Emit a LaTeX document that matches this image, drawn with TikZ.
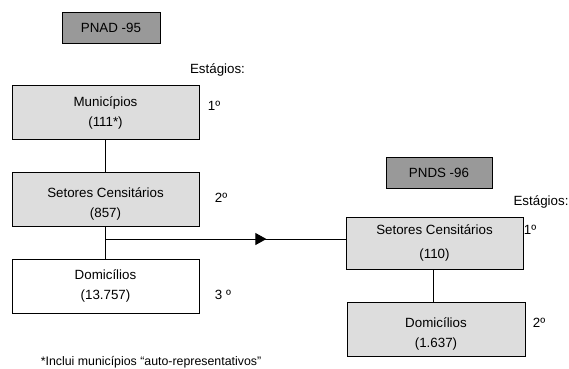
\documentclass[tikz,border=0pt]{standalone}
\usepackage{fontspec}
\setmainfont{Liberation Sans}
\usetikzlibrary{positioning, arrows.meta, decorations.markings}

\definecolor{headgray}{HTML}{999999}
\definecolor{boxgray}{HTML}{DDDDDD}

\begin{document}
\begin{tikzpicture}[x=1bp, y=-1bp, line width=0.8bp,
  every node/.style={font=\fontsize{13.4}{20}\selectfont, inner sep=0pt},
  headbox/.style={draw, fill=headgray, minimum width=98bp, minimum height=31bp},
  stagebox/.style={draw, fill=boxgray, align=center, minimum width=187bp, minimum height=54bp},
  ordlabel/.style={anchor=center}]
\useasboundingbox (0,0) rectangle (569,368);

% PNAD - 95
\node [headbox] (pnad) at (111,27.5) {PNAD -95};
\node (estA) at (217.5,70) {Estágios:};
\node [stagebox] (munA) at (105.5,112.5) {Municípios\\(111*)};
\node [stagebox] (setA) at (105.5,199.5) {\rule{0pt}{18bp}Setores Censitários\\(857)};
\node [stagebox, fill=white] (domA) at (105.5,286) {Domicílios\\(13.757)};
\node [ordlabel] (ordA1) at (214,106) {1º};
\node [ordlabel] (ordA2) at (221,198) {2º};
\node [ordlabel] (ordA3) at (223,295) {3 º};

% PNDS - 96
\node [headbox, minimum width=106bp] (pnds) at (439,172.5) {PNDS -96};
\node (estB) at (541,202) {Estágios:};
\node [stagebox, minimum width=177bp, minimum height=52bp] (setB) at (434.5,243) {Setores Censitários\\[4bp](110)};
\node [stagebox, minimum width=178bp] (domB) at (436,329) {\rule{0pt}{20bp}Domicílios\\(1.637)};
\node [ordlabel] (ordB1) at (530,230) {1º};
\node [ordlabel] (ordB2) at (539,323) {2º};

\node [font=\fontsize{12.4}{15}\selectfont] (nota) at (151,362) {*Inclui municípios “auto-representativos”};

% ligacoes
\coordinate (jn) at (105.5,239);
\draw (munA.south) -- (setA.north);
\draw (setA.south) -- (domA.north);
\draw [postaction={decorate}, decoration={markings, mark=at position 0.67 with {\arrow{Triangle[length=11bp,width=12bp]}}}] (jn) -- (jn -| setB.west);
\draw (setB.south -| 433,0) -- (domB.north -| 433,0);
\end{tikzpicture}
\end{document}
